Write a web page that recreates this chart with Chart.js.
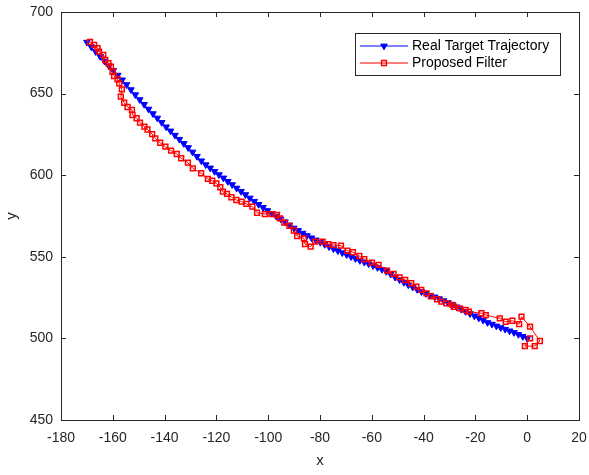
<!DOCTYPE html>
<html>
<head>
<meta charset="utf-8">
<script src="https://cdn.jsdelivr.net/npm/chart.js@4.4.1/dist/chart.umd.min.js"></script>
<style>
  body { margin: 0; background: #fff; }
  canvas { display: block; }
</style>
</head>
<body>
<canvas id="grafico" width="589" height="475"></canvas>
<script>
// trayectoria real (triangulos azules)
const realX = [-170, -168.3, -166.6, -164.9, -163.2, -161.5, -159.8, -158.1, -156.4, -154.7,
  -153, -151.3, -149.6, -147.9, -146.2, -144.5, -142.8, -141.1, -139.4, -137.7,
  -136, -134.3, -132.6, -130.9, -129.2, -127.5, -125.8, -124.1, -122.4, -120.7,
  -119, -117.3, -115.6, -113.9, -112.2, -110.5, -108.8, -107.1, -105.4, -103.7,
  -102, -100.3, -98.6, -96.9, -95.2, -93.5, -91.8, -90.1, -88.4, -86.7,
  -85, -83.3, -81.6, -79.9, -78.2, -76.5, -74.8, -73.1, -71.4, -69.7,
  -68, -66.3, -64.6, -62.9, -61.2, -59.5, -57.8, -56.1, -54.4, -52.7,
  -51, -49.3, -47.6, -45.9, -44.2, -42.5, -40.8, -39.1, -37.4, -35.7,
  -34, -32.3, -30.6, -28.9, -27.2, -25.5, -23.8, -22.1, -20.4, -18.7,
  -17, -15.3, -13.6, -11.9, -10.2, -8.5, -6.8, -5.1, -3.4, -1.7,
  0]
const realY = [681.5, 678.6, 675.7, 672.8, 669.9, 667.0, 664.2, 661.3, 658.4, 655.5,
  652.4, 649.3, 646.3, 643.4, 640.5, 637.7, 635.0, 632.3, 629.6, 627.1,
  624.5, 622.0, 619.4, 616.9, 614.2, 611.5, 608.8, 606.4, 604.4, 602.3,
  600.3, 598.3, 596.2, 594.2, 592.1, 590.1, 588.1, 586.0, 584.0, 582.1,
  580.2, 578.3, 576.6, 574.9, 573.2, 571.4, 569.5, 567.6, 566.1, 564.5,
  563.0, 561.6, 560.3, 558.9, 557.6, 556.2, 554.9, 553.7, 552.5, 551.3,
  550.1, 548.9, 547.7, 546.7, 545.7, 544.6, 543.4, 542.3, 541.0, 539.3,
  537.5, 535.9, 534.3, 532.8, 531.4, 530.0, 528.6, 527.5, 526.4, 525.4,
  524.3, 523.1, 521.9, 520.6, 519.3, 517.9, 516.5, 515.2, 513.8, 512.5,
  511.1, 509.7, 508.7, 507.6, 506.6, 505.6, 504.6, 503.6, 502.4, 501.2,
  500.0]

// filtro propuesto (cuadrados rojos)
const filtroX = [-168.8, -167.2, -165.9, -165.3, -163.7, -162.9, -161.7, -160.7, -160.1, -159.5,
  -158.2, -157.5, -156.5, -156.9, -155.6, -154.3, -152.6, -152.4, -150.8, -149.5,
  -147.8, -146.6, -144.8, -143.6, -141.7, -139.7, -137.5, -135.3, -133.6, -131.0,
  -129.1, -125.9, -123.3, -121.6, -120.0, -118.5, -117.5, -115.9, -114.2, -112.3,
  -110.3, -108.4, -106.1, -104.3, -101.3, -98.7, -96.6, -95.5, -93.8, -91.8,
  -90.1, -88.8, -86.2, -85.8, -83.6, -81.9, -79.0, -76.8, -74.8, -71.9,
  -69.4, -67.3, -64.8, -62.9, -60.0, -57.4, -54.1, -51.6, -49.3, -47.1,
  -44.8, -42.8, -40.9, -38.9, -37.2, -34.8, -33.1, -31.2, -28.9, -28.3,
  -26.0, -23.8, -22.5, -17.7, -16.0, -10.6, -8.3, -5.7, -3.1, -2.2,
  1.1, 4.9, 2.9, -0.9, 1.1]
const filtroY = [681.6, 679.8, 677.8, 675.7, 673.7, 670.6, 668.6, 666.5, 663.4, 660.8,
  658.8, 656.3, 652.6, 648.1, 644.4, 641.8, 640.0, 636.9, 634.9, 632.2,
  629.8, 628.0, 625.2, 622.6, 619.9, 617.5, 615.0, 613.0, 610.4, 607.7,
  604.2, 601.2, 597.7, 596.6, 595.0, 592.6, 589.9, 588.5, 586.5, 584.8,
  583.8, 582.4, 580.7, 577.0, 576.2, 576.2, 575.6, 573.5, 570.9, 568.9,
  566.1, 562.7, 561.3, 557.8, 556.2, 559.3, 559.3, 557.8, 557.2, 556.8,
  553.7, 552.8, 550.5, 548.5, 546.4, 545.0, 541.5, 539.5, 537.4, 535.8,
  533.8, 531.7, 529.7, 527.6, 525.7, 524.0, 522.5, 521.5, 520.5, 519.4,
  518.4, 517.4, 516.4, 515.4, 514.3, 512.3, 510.2, 510.8, 508.8, 513.3,
  507.2, 498.4, 495.3, 495.3, 500.0]

const ticksX = [-180, -160, -140, -120, -100, -80, -60, -40, -20, 0, 20]
const ticksY = [450, 500, 550, 600, 650, 700]
const etiquetas = ['Real Target Trajectory', 'Proposed Filter']

const ejeColor = '#262626'
const fuente = "'Liberation Sans', Arial, Helvetica, sans-serif"

const puntos = (xs, ys) => xs.map((x, i) => ({ x: x, y: ys[i] }))

// caja estilo matlab con ticks hacia adentro + leyenda
const cajaEjes = {
  id: 'cajaEjes',
  afterDatasetsDraw(chart) {
    const { ctx, chartArea: a, scales } = chart
    ctx.save()
    ctx.strokeStyle = ejeColor
    ctx.lineWidth = 1
    ctx.strokeRect(Math.round(a.left) + 0.5, Math.round(a.top) + 0.5,
      Math.round(a.right - a.left), Math.round(a.bottom - a.top))
    const largo = 5
    ctx.beginPath()
    scales.x.ticks.forEach(t => {
      const px = Math.round(scales.x.getPixelForValue(t.value)) + 0.5
      ctx.moveTo(px, a.bottom); ctx.lineTo(px, a.bottom - largo)
      ctx.moveTo(px, a.top); ctx.lineTo(px, a.top + largo)
    })
    scales.y.ticks.forEach(t => {
      const py = Math.round(scales.y.getPixelForValue(t.value)) + 0.5
      ctx.moveTo(a.left, py); ctx.lineTo(a.left + largo, py)
      ctx.moveTo(a.right, py); ctx.lineTo(a.right - largo, py)
    })
    ctx.stroke()

    const lx = 355.5, ly = 33.5, lw = 205, lh = 42
    ctx.fillStyle = '#fff'
    ctx.fillRect(lx, ly, lw, lh)
    ctx.strokeStyle = ejeColor
    ctx.strokeRect(lx, ly, lw, lh)
    const filas = [46, 63]
    chart.data.datasets.forEach((ds, i) => {
      const y = filas[i]
      ctx.strokeStyle = ds.borderColor
      ctx.lineWidth = 1
      ctx.beginPath()
      ctx.moveTo(360, y); ctx.lineTo(408, y)
      ctx.stroke()
      ctx.fillStyle = ds.pointBackgroundColor
      ctx.strokeStyle = ds.pointBorderColor
      ctx.lineWidth = ds.pointBorderWidth
      Chart.helpers.drawPoint(ctx, {
        pointStyle: ds.pointStyle, rotation: ds.pointRotation || 0,
        radius: ds.pointRadius, borderWidth: ds.pointBorderWidth
      }, 384, y)
      ctx.fillStyle = '#000'
      ctx.font = '14px ' + fuente
      ctx.textBaseline = 'middle'
      ctx.textAlign = 'left'
      ctx.fillText(ds.label, 412, y + 0.5)
    })
    ctx.restore()
  }
}

const data = {
  datasets: [
    {
      label: etiquetas[0],
      data: puntos(realX, realY),
      showLine: true,
      borderColor: 'rgb(0,0,255)',
      backgroundColor: 'rgb(0,0,255)',
      borderWidth: 1,
      pointStyle: 'triangle',
      pointRotation: 180,
      pointRadius: 3.8,
      pointBorderWidth: 1,
      pointBorderColor: 'rgb(0,0,255)',
      pointBackgroundColor: 'rgb(0,0,255)',
      order: 2
    },
    {
      label: etiquetas[1],
      data: puntos(filtroX, filtroY),
      showLine: true,
      borderColor: 'rgb(255,0,0)',
      backgroundColor: 'rgba(0,0,0,0)',
      borderWidth: 1,
      pointStyle: 'rect',
      pointRadius: 3.4,
      pointBorderWidth: 1.5,
      pointBorderColor: 'rgb(255,0,0)',
      pointBackgroundColor: 'rgba(255,255,255,0)',
      order: 1
    }
  ]
}

const config = {
  type: 'scatter',
  data: data,
  options: {
    responsive: false,
    animation: false,
    devicePixelRatio: 1,
    layout: { padding: { top: 12, right: 10, bottom: 0, left: 0 } },
    plugins: {
      legend: { display: false },
      tooltip: { enabled: false }
    },
    scales: {
      x: {
        type: 'linear',
        min: -180,
        max: 20,
        afterBuildTicks: (scale) => { scale.ticks = ticksX.map(v => ({ value: v })) },
        afterFit: (scale) => {
          scale.height = 55
          scale.paddingLeft = 0
          scale.paddingRight = 0
        },
        grid: { display: false, drawTicks: false },
        border: { display: false },
        ticks: {
          padding: 10,
          color: ejeColor,
          font: { family: fuente, size: 14 },
          maxRotation: 0,
          callback: (v) => String(v)
        },
        title: {
          display: true,
          text: 'x',
          color: ejeColor,
          font: { family: fuente, size: 15 },
          padding: { top: 0, bottom: 5 }
        }
      },
      y: {
        type: 'linear',
        min: 450,
        max: 700,
        afterBuildTicks: (scale) => { scale.ticks = ticksY.map(v => ({ value: v })) },
        afterFit: (scale) => {
          scale.width = 61
          scale.paddingTop = 0
          scale.paddingBottom = 0
        },
        grid: { display: false, drawTicks: false },
        border: { display: false },
        ticks: {
          padding: 8,
          color: ejeColor,
          font: { family: fuente, size: 14 },
          callback: (v) => String(v)
        },
        title: {
          display: true,
          text: 'y',
          color: ejeColor,
          font: { family: fuente, size: 15 },
          padding: { top: 3, bottom: 0 }
        }
      }
    }
  },
  plugins: [cajaEjes]
}

const myChart = new Chart(document.getElementById('grafico'), config)
</script>
</body>
</html>
